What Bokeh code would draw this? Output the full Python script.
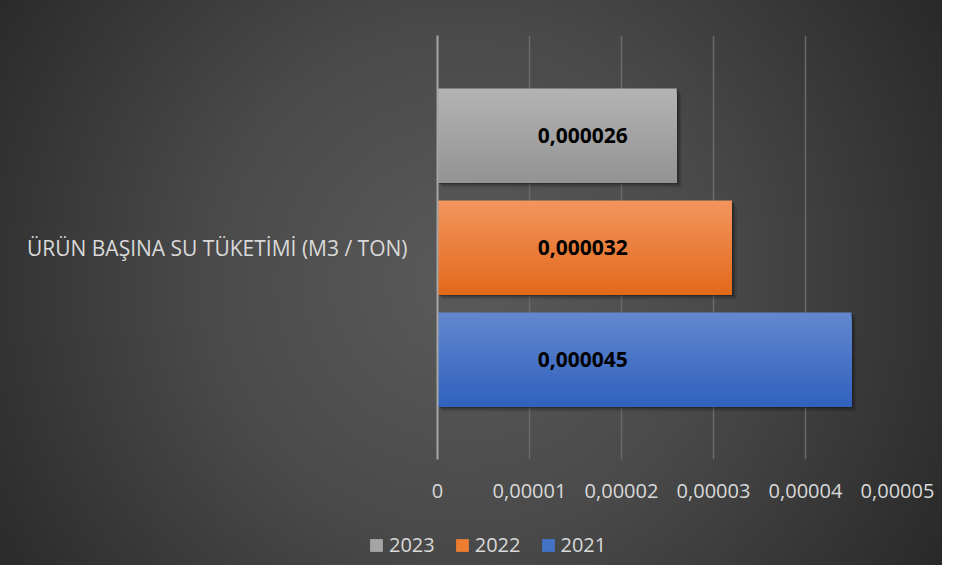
from bokeh.plotting import figure
from bokeh.layouts import column, row
from bokeh.models import Range1d, FixedTicker, Legend, LegendItem, ColumnDataSource, Spacer
from bokeh.core.properties import value
from bokeh.embed import file_html
from bokeh.resources import INLINE

# ---- data ----
category = "ÜRÜN BAŞINA SU TÜKETİMİ (M3 / TON)"
years = ["2023", "2022", "2021"]
values = [0.000026, 0.000032, 0.000045]
value_labels = ["0,000026", "0,000032", "0,000045"]
x_ticks = [0, 0.00001, 0.00002, 0.00003, 0.00004, 0.00005]
x_tick_labels = ["0", "0,00001", "0,00002", "0,00003", "0,00004", "0,00005"]

# ---- style ----
top_colors = ["#b4b4b4", "#f3955f", "#6388d0"]
bottom_colors = ["#939393", "#e2691a", "#3061bd"]
legend_colors = ["#a5a5a5", "#ed7d31", "#4472c4"]
FONT = "Open Sans"
TEXT_COL = "#d9d9d9"

W, H = 942, 565
H1 = 520            # main chart height
H2 = H - H1         # legend strip height
LEG_MARGIN = 11
LEG_X = 368 - LEG_MARGIN   # legend strip offset (px)
X_MAX = 0.00005
FL, FT = 437, 35
frame_w_px = 460
frame_h_px = 424

p = figure(width=W, height=H1, output_backend="svg", toolbar_location=None,
           x_range=Range1d(0, X_MAX), y_range=Range1d(0, 1),
           min_border_left=FL, min_border_right=W - FL - frame_w_px,
           min_border_top=FT, min_border_bottom=H1 - FT - frame_h_px)
p.border_fill_color = None
p.background_fill_color = None
p.outline_line_color = None

# grouped bar layout (fraction of category band)
bar_h = 0.2217
gap = 0.0425
centers = [0.5 + (bar_h + gap), 0.5, 0.5 - (bar_h + gap)]

px_x = X_MAX / frame_w_px
px_y = 1.0 / frame_h_px

def hex2rgb(h):
    h = h.lstrip("#")
    return tuple(int(h[i:i + 2], 16) for i in (0, 2, 4))

def mix(a, b, t):
    ra, rb = hex2rgb(a), hex2rgb(b)
    return "#%02x%02x%02x" % tuple(int(round(ra[i] + (rb[i] - ra[i]) * t)) for i in range(3))

# shadows
for off, alpha in [(5, 0.10), (3, 0.18), (1.5, 0.22)]:
    p.hbar(y=[c - off * px_y for c in centers], right=[v + off * px_x for v in values],
           left=off * px_x, height=bar_h, fill_color="black", fill_alpha=alpha, line_color=None)

# gradient bars: nested rectangles anchored at each bar's bottom (no seams)
N = 30
for i, (c, v) in enumerate(zip(centers, values)):
    bottom = c - bar_h / 2
    tops, bots, rights, lefts, cols = [], [], [], [], []
    for k in range(N):
        t = k / N
        tops.append(c + bar_h / 2 - t * bar_h)
        bots.append(bottom)
        rights.append(v)
        lefts.append(0)
        cols.append(mix(top_colors[i], bottom_colors[i], (k + 0.5) / N))
    src = ColumnDataSource(dict(top=tops, bottom=bots, left=lefts, right=rights, color=cols))
    p.quad(top="top", bottom="bottom", left="left", right="right", fill_color="color",
           line_color=None, source=src)

# data labels
LABEL_X = 0.0000158
lab_src = ColumnDataSource(dict(x=[LABEL_X] * 3, y=centers, t=value_labels))
p.text(x="x", y="y", text="t", source=lab_src, text_align="center", text_baseline="middle",
       text_font=value(FONT), text_font_style="bold", text_font_size="21px", text_color="black")

# axes
p.xaxis.ticker = FixedTicker(ticks=x_ticks)
p.xaxis.major_label_overrides = {t: l for t, l in zip(x_ticks, x_tick_labels)}
p.xaxis.axis_line_color = None
p.xaxis.major_tick_line_color = None
p.xaxis.minor_tick_line_color = None
p.xaxis.major_label_text_font = FONT
p.xaxis.major_label_text_font_size = "20px"
p.xaxis.major_label_text_color = TEXT_COL
p.xaxis.major_label_standoff = 18

p.yaxis.ticker = FixedTicker(ticks=[0.5])
p.yaxis.major_label_overrides = {0.5: category}
p.yaxis.axis_line_color = "#a6a6a6"
p.yaxis.axis_line_width = 2
p.yaxis.major_tick_line_color = None
p.yaxis.minor_tick_line_color = None
p.yaxis.major_label_text_font = FONT
p.yaxis.major_label_text_font_size = "21px"
p.yaxis.major_label_text_color = TEXT_COL
p.yaxis.major_label_standoff = 24

p.xgrid.ticker = FixedTicker(ticks=x_ticks[1:])
p.xgrid.grid_line_color = "#6a6a6a"
p.xgrid.grid_line_width = 1.5
p.ygrid.grid_line_color = None

# ---- legend strip (separate transparent figure) ----
p2 = figure(width=W - LEG_X, height=H2, output_backend="svg", toolbar_location=None,
            x_range=Range1d(0, X_MAX), y_range=Range1d(0, 1),
            min_border_left=0, min_border_right=0, min_border_top=0, min_border_bottom=0)
p2.axis.visible = False
p2.grid.visible = False
p2.border_fill_color = None
p2.background_fill_color = None
p2.outline_line_color = None

legend_items = []
for i, yr in enumerate(years):
    # hidden proxy bars only feed the legend swatches
    r = p2.hbar(y=[0.5], right=[values[i]], left=0, height=0.5,
                fill_color=legend_colors[i], line_color=None)
    r.visible = False
    legend_items.append(LegendItem(label=yr, renderers=[r]))

legend = Legend(items=legend_items, orientation="horizontal", location="top_left",
                label_text_font=FONT, label_text_font_size="20px", label_text_color=TEXT_COL,
                glyph_width=16, glyph_height=16, label_standoff=5, spacing=19,
                padding=0, margin=LEG_MARGIN, background_fill_alpha=0, border_line_color=None)
p2.add_layout(legend)

layout = column(p, row(Spacer(width=LEG_X, height=H2), p2, spacing=0), spacing=0)
layout.styles = {"background": "radial-gradient(circle 600px at 49% 50%, #5a5a5a 0%, #4a4a4a 42%, #242424 100%)"}

open("out.html", "w").write(file_html(layout, INLINE))
